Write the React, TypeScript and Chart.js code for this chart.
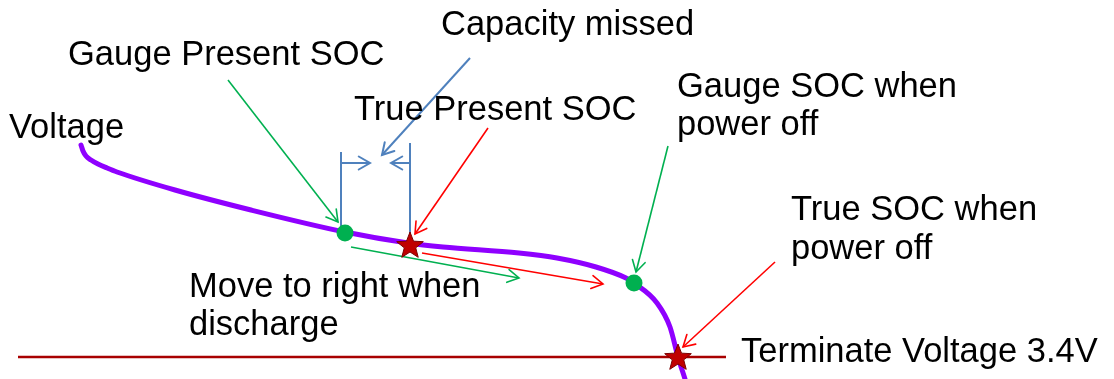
import React, { useEffect, useRef } from "react";
import { Chart, registerables } from "chart.js";

Chart.register(...registerables);

const W = 1114;
const H = 379;

// Discharge curve (capacity position, voltage position) in diagram units
const curveX = [81, 83, 86, 91, 98, 107, 117, 175, 251, 345, 408, 443, 519, 557, 596, 626, 634, 657, 670, 678, 685];
const curveY = [145, 151, 156, 160, 164, 168, 172, 190, 210, 232, 243, 247, 253, 258, 267, 278, 283, 303, 327, 357, 379];

// Terminate voltage line
const terminateX = [18, 726];
const terminateY = [357, 357];

// Gauge SOC points (green dots)
const gaugeX = [345, 634];
const gaugeY = [233, 283];

// True SOC points (red stars)
const trueX = [410, 678];
const trueY = [245, 357];

// Arrows: [x1, y1, x2, y2]
const greenArrows = [
  [228, 80, 338, 222],
  [668, 146, 636, 272],
  [351, 247, 519, 278],
];
const redArrows = [
  [488, 128, 415, 234],
  [775, 262, 683, 347],
  [422, 253, 603, 284],
];
const blueArrows = [
  [470, 58, 382, 155],
  [341, 163, 370, 163],
  [410, 163, 391, 163],
];
const blueLines = [
  [341, 152, 341, 233],
  [410, 143, 410, 245],
];

// Text labels
const labelText = [
  "Capacity missed",
  "Gauge Present SOC",
  "Voltage",
  "True Present SOC",
  "Gauge SOC when",
  "power off",
  "True SOC when",
  "power off",
  "Move to right when",
  "discharge",
  "Terminate Voltage 3.4V",
];
const labelX = [441, 68, 9, 354, 677, 677, 791, 791, 189, 189, 741];
const labelY = [35, 65, 138, 120, 97, 135, 220, 259, 297, 335, 362];

const PURPLE = "#8F00FF";
const GREEN = "#00B050";
const RED = "#FF0000";
const BLUE = "#4F81BD";
const DARKRED = "#A80000";

function segDataset(seg: number[], color: string, width: number, arrow: boolean) {
  return {
    data: [
      { x: seg[0], y: seg[1] },
      { x: seg[2], y: seg[3] },
    ],
    showLine: true,
    borderColor: color,
    borderWidth: width,
    pointRadius: 0,
    tension: 0,
    arrow,
    order: 2,
  } as any;
}

const arrowPlugin = {
  id: "arrowHeads",
  afterDatasetsDraw(chart: any) {
    const ctx = chart.ctx;
    chart.data.datasets.forEach((ds: any, i: number) => {
      if (!ds.arrow) return;
      const meta = chart.getDatasetMeta(i);
      const pts = meta.data;
      if (pts.length < 2) return;
      const a = pts[pts.length - 2];
      const b = pts[pts.length - 1];
      const ang = Math.atan2(b.y - a.y, b.x - a.x);
      const len = 13;
      const spread = Math.PI / 6;
      ctx.save();
      ctx.strokeStyle = ds.borderColor;
      ctx.lineWidth = ds.borderWidth;
      ctx.lineCap = "round";
      ctx.lineJoin = "miter";
      ctx.beginPath();
      ctx.moveTo(b.x - len * Math.cos(ang - spread), b.y - len * Math.sin(ang - spread));
      ctx.lineTo(b.x, b.y);
      ctx.lineTo(b.x - len * Math.cos(ang + spread), b.y - len * Math.sin(ang + spread));
      ctx.stroke();
      ctx.restore();
    });
  },
};

const starPlugin = {
  id: "stars",
  afterDatasetsDraw(chart: any) {
    const ctx = chart.ctx;
    chart.data.datasets.forEach((ds: any, i: number) => {
      if (!ds.star) return;
      const meta = chart.getDatasetMeta(i);
      meta.data.forEach((p: any) => {
        const ro = 14;
        const ri = 6;
        ctx.save();
        ctx.beginPath();
        for (let k = 0; k < 10; k++) {
          const r = k % 2 === 0 ? ro : ri;
          const t = -Math.PI / 2 + (k * Math.PI) / 5;
          const px = p.x + r * Math.cos(t);
          const py = p.y + 1 + r * Math.sin(t);
          if (k === 0) ctx.moveTo(px, py);
          else ctx.lineTo(px, py);
        }
        ctx.closePath();
        ctx.fillStyle = "#C00000";
        ctx.fill();
        ctx.strokeStyle = "#7A0000";
        ctx.lineWidth = 1;
        ctx.stroke();
        ctx.restore();
      });
    });
  },
};

const labelPlugin = {
  id: "labels",
  afterDraw(chart: any) {
    const ctx = chart.ctx;
    const xs = chart.scales.x;
    const ys = chart.scales.y;
    ctx.save();
    ctx.fillStyle = "#000000";
    ctx.font = "34.5px 'Liberation Sans', Arial, sans-serif";
    ctx.textBaseline = "alphabetic";
    ctx.textAlign = "left";
    labelText.forEach((t, i) => {
      ctx.fillText(t, xs.getPixelForValue(labelX[i]), ys.getPixelForValue(labelY[i]));
    });
    ctx.restore();
  },
};

export default function App() {
  const ref = useRef<HTMLCanvasElement | null>(null);

  useEffect(() => {
    if (!ref.current) return;
    const datasets: any[] = [];

    datasets.push({
      data: gaugeX.map((x, i) => ({ x, y: gaugeY[i] })),
      showLine: false,
      pointRadius: 8.5,
      pointBackgroundColor: GREEN,
      pointBorderColor: GREEN,
      pointBorderWidth: 0,
      order: 0,
    });
    datasets.push({
      data: trueX.map((x, i) => ({ x, y: trueY[i] })),
      showLine: false,
      pointRadius: 0,
      star: true,
      order: 0,
    });
    greenArrows.forEach((s) => datasets.push(segDataset(s, GREEN, 1.6, true)));
    redArrows.forEach((s) => datasets.push(segDataset(s, RED, 1.6, true)));
    blueArrows.forEach((s) => datasets.push(segDataset(s, BLUE, 2, true)));
    blueLines.forEach((s) => datasets.push(segDataset(s, BLUE, 2, false)));
    datasets.push({
      data: curveX.map((x, i) => ({ x, y: curveY[i] })),
      showLine: true,
      borderColor: PURPLE,
      borderWidth: 5,
      pointRadius: 0,
      cubicInterpolationMode: "monotone",
      borderCapStyle: "round",
      borderJoinStyle: "round",
      order: 3,
    });
    datasets.push({
      data: terminateX.map((x, i) => ({ x, y: terminateY[i] })),
      showLine: true,
      borderColor: DARKRED,
      borderWidth: 2.5,
      pointRadius: 0,
      order: 4,
    });

    const chart = new Chart(ref.current, {
      type: "scatter",
      data: { datasets },
      options: {
        responsive: false,
        animation: false,
        events: [],
        layout: { padding: 0, autoPadding: false },
        plugins: { legend: { display: false }, tooltip: { enabled: false } },
        scales: {
          x: { type: "linear", min: 0, max: W, display: false },
          y: { type: "linear", min: 0, max: H, reverse: true, display: false },
        },
      },
      plugins: [arrowPlugin, starPlugin, labelPlugin],
    } as any);
    return () => chart.destroy();
  }, []);

  return (
    <div style={{ position: "absolute", left: 0, top: 0, width: W, height: H, background: "#fff" }}>
      <canvas ref={ref} width={W} height={H} style={{ display: "block", width: W, height: H }} />
    </div>
  );
}
